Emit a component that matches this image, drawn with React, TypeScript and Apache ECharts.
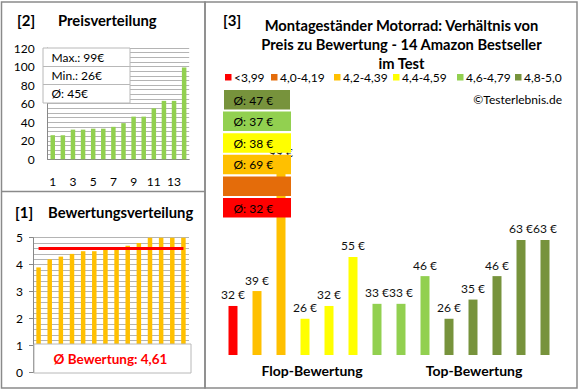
import React, { useEffect, useRef } from "react";
import * as echarts from "echarts";

const indexLabels = ["1", "2", "3", "4", "5", "6", "7", "8", "9", "10", "11", "12", "13", "14"];
const sortedPrices = [26, 26, 32, 32, 33, 33, 35, 39, 46, 46, 55, 63, 63, 99];
const sortedRatings = [3.9, 4.2, 4.3, 4.4, 4.5, 4.5, 4.6, 4.6, 4.7, 4.8, 5, 5, 5, 5];
const productPrices = [32, 39, 99, 26, 32, 55, 33, 33, 46, 26, 35, 46, 63, 63];
const productRatings = [3.9, 4.2, 4.3, 4.4, 4.5, 4.5, 4.6, 4.6, 4.7, 4.8, 5, 5, 5, 5];
const legendLabels = ["<3,99", "4,0-4,19", "4,2-4,39", "4,4-4,59", "4,6-4,79", "4,8-5,0"];
const groupColors = ["#FF0000", "#E46C0A", "#FFC000", "#FFFF00", "#92D050", "#77933C"];
const groupAvgLabels = ["Ø: 32 €", "", "Ø: 69 €", "Ø: 38 €", "Ø: 37 €", "Ø: 47 €"];
const priceStats = ["Max.: 99€", "Min.: 26€", "Ø: 45€"];
const avgRating = 4.61;
const avgRatingText = "Ø Bewertung: 4,61";
const titleLines = [
  "Montageständer Motorrad: Verhältnis von",
  "Preis zu Bewertung - 14 Amazon Bestseller",
  "im Test",
];

const FONT = "Lato, 'Open Sans', sans-serif";

function groupOf(r: number): number {
  if (r < 4) return 0;
  if (r < 4.2) return 1;
  if (r < 4.4) return 2;
  if (r < 4.6) return 3;
  if (r < 4.8) return 4;
  return 5;
}

export default function App() {
  const ref = useRef<HTMLDivElement>(null);
  useEffect(() => {
    if (!ref.current) return;
    const chart = echarts.init(ref.current, null, { renderer: "svg" });
    const border = "#8a8a8a";
    const gridCol = "#b4b4b4";

    const graphics: any[] = [];
    // panel borders
    graphics.push({ type: "rect", shape: { x: 1.5, y: 2, width: 203.5, height: 386 }, style: { fill: "none", stroke: border, lineWidth: 1.5 }, z: 100 });
    graphics.push({ type: "line", shape: { x1: 1.5, y1: 191.5, x2: 205, y2: 191.5 }, style: { stroke: border, lineWidth: 1.5 }, z: 100 });
    graphics.push({ type: "rect", shape: { x: 205, y: 2, width: 372, height: 386 }, style: { fill: "none", stroke: border, lineWidth: 1.5 }, z: 100 });
    // panel titles
    const titleStyle = { fontFamily: FONT, fontWeight: "bold", fill: "#000" };
    graphics.push({ type: "text", x: 17, y: 20, style: { ...titleStyle, text: "[2]", fontSize: 15, verticalAlign: "middle" }, z: 100 });
    graphics.push({ type: "text", x: 58, y: 20, style: { ...titleStyle, text: "Preisverteilung", fontSize: 14.8, verticalAlign: "middle" }, z: 100 });
    graphics.push({ type: "text", x: 15, y: 212, style: { ...titleStyle, text: "[1]", fontSize: 15, verticalAlign: "middle" }, z: 100 });
    graphics.push({ type: "text", x: 48, y: 212, style: { ...titleStyle, text: "Bewertungsverteilung", fontSize: 14.8, verticalAlign: "middle" }, z: 100 });
    graphics.push({ type: "text", x: 223, y: 20, style: { ...titleStyle, text: "[3]", fontSize: 15, verticalAlign: "middle" }, z: 100 });
    titleLines.forEach((t, i) => {
      graphics.push({ type: "text", x: 401.5, y: 25 + i * 19.2, style: { ...titleStyle, text: t, fontSize: 14.7, align: "center", verticalAlign: "middle" }, z: 100 });
    });
    // price stats box
    graphics.push({ type: "rect", shape: { x: 43, y: 48, width: 87, height: 55 }, style: { fill: "#fff", stroke: "#b8b8b8", lineWidth: 1 }, z: 100 });
    [66.5, 84.5].forEach((yy) =>
      graphics.push({ type: "line", shape: { x1: 43, y1: yy, x2: 130, y2: yy }, style: { stroke: "#b8b8b8", lineWidth: 1 }, z: 100 })
    );
    priceStats.forEach((t, i) => {
      graphics.push({ type: "text", x: 51.5, y: 57.5 + i * 18.2, style: { text: t, fontFamily: FONT, fontSize: 12, fill: "#000", verticalAlign: "middle" }, z: 101 });
    });
    // rating avg box
    graphics.push({ type: "rect", shape: { x: 34, y: 344, width: 157, height: 29 }, style: { fill: "#fff", stroke: "#b8b8b8", lineWidth: 1 }, z: 100 });
    graphics.push({ type: "text", x: 110.5, y: 359, style: { text: avgRatingText, fontFamily: FONT, fontWeight: "bold", fontSize: 13.5, fill: "#FF0000", align: "center", verticalAlign: "middle" }, z: 101 });
    // legend
    const legendX = [225, 271, 334, 393, 457, 515];
    legendLabels.forEach((t, i) => {
      graphics.push({ type: "rect", shape: { x: legendX[i], y: 74, width: 6.5, height: 6.5 }, style: { fill: groupColors[i] }, z: 100 });
      graphics.push({ type: "text", x: legendX[i] + 9, y: 77.5, style: { text: t, fontFamily: FONT, fontSize: 12, fill: "#000", verticalAlign: "middle" }, z: 100 });
    });
    graphics.push({ type: "text", x: 562, y: 99, style: { text: "©Testerlebnis.de", fontFamily: FONT, fontSize: 12, fill: "#000", align: "right", verticalAlign: "middle" }, z: 100 });
    // group average boxes
    for (let g = 5; g >= 0; g--) {
      const yy = 90 + (5 - g) * 21.6;
      graphics.push({ type: "rect", shape: { x: g === 5 ? 224 : 223, y: yy, width: g === 5 ? 66 : 68, height: 19.5 }, style: { fill: groupColors[g] }, z: 100 });
      if (groupAvgLabels[g]) {
        graphics.push({ type: "text", x: 233.5, y: yy + 10, style: { text: groupAvgLabels[g], fontFamily: FONT, fontSize: 12, fill: "#000", verticalAlign: "middle" }, z: 101 });
      }
    }
    // x labels main chart
    graphics.push({ type: "text", x: 312, y: 370, style: { ...titleStyle, text: "Flop-Bewertung", fontSize: 14, align: "center", verticalAlign: "middle" }, z: 100 });
    graphics.push({ type: "text", x: 474, y: 370, style: { ...titleStyle, text: "Top-Bewertung", fontSize: 14, align: "center", verticalAlign: "middle" }, z: 100 });

    const option: any = {
      animation: false,
      backgroundColor: "#fff",
      textStyle: { fontFamily: FONT },
      grid: [
        { left: 47.7, top: 48, width: 141.5, height: 111.3 },
        { left: 33, top: 237.7, width: 156, height: 135 },
        { left: 221, top: 161, width: 336, height: 194 },
      ],
      xAxis: [
        {
          gridIndex: 0, type: "category", data: indexLabels,
          axisLine: { lineStyle: { color: "#888" } }, axisTick: { show: false },
          axisLabel: { interval: 1, color: "#000", fontSize: 12, margin: 16, fontFamily: FONT },
        },
        {
          gridIndex: 1, type: "category", data: indexLabels,
          axisLine: { lineStyle: { color: "#888" } }, axisTick: { show: false }, axisLabel: { show: false },
        },
        {
          gridIndex: 2, type: "category", data: indexLabels,
          axisLine: { show: false }, axisTick: { show: false }, axisLabel: { show: false },
        },
      ],
      yAxis: [
        {
          gridIndex: 0, type: "value", min: 0, max: 120, interval: 20,
          axisLine: { show: true, lineStyle: { color: "#888" } }, axisTick: { show: false },
          axisLabel: { color: "#000", fontSize: 12, margin: 13, fontFamily: FONT },
          splitLine: { lineStyle: { color: gridCol } },
          minorTick: { show: false, splitNumber: 4 },
          minorSplitLine: { show: true, lineStyle: { color: gridCol } },
        },
        {
          gridIndex: 1, type: "value", min: 0, max: 5, interval: 1,
          axisLine: { show: true, lineStyle: { color: "#888" } },
          axisTick: { show: true, length: 4, lineStyle: { color: "#888" } },
          axisLabel: { color: "#000", fontSize: 12, margin: 10, fontFamily: FONT },
          splitLine: { lineStyle: { color: gridCol } },
          minorTick: { show: false, splitNumber: 5 },
          minorSplitLine: { show: true, lineStyle: { color: gridCol } },
        },
        {
          gridIndex: 2, type: "value", min: 9, max: 100,
          show: false, splitLine: { show: false },
        },
      ],
      series: [
        {
          type: "bar", xAxisIndex: 0, yAxisIndex: 0, data: sortedPrices,
          barWidth: 4.5, itemStyle: { color: "#92D050" },
        },
        {
          type: "bar", xAxisIndex: 1, yAxisIndex: 1, data: sortedRatings,
          barWidth: 4.5, itemStyle: { color: "#FFC000" },
          markLine: {
            silent: true, symbol: "none",
            label: { show: false },
            lineStyle: { color: "#FF0000", width: 3, type: "solid" },
            data: [[{ coord: [0, avgRating] }, { coord: [13, avgRating] }]],
          },
        },
        {
          type: "bar", xAxisIndex: 2, yAxisIndex: 2,
          data: productPrices.map((p, i) => ({ value: p, itemStyle: { color: groupColors[groupOf(productRatings[i])] } })),
          barWidth: 9,
          label: {
            show: true, position: "top", distance: 5,
            formatter: (p: any) => p.value + " €",
            color: "#111", fontSize: 12, fontFamily: FONT,
          },
        },
      ],
      graphic: graphics,
    };
    chart.setOption(option);
    return () => chart.dispose();
  }, []);
  return <div ref={ref} style={{ position: "fixed", left: 0, top: 0, width: 580, height: 390 }} />;
}
